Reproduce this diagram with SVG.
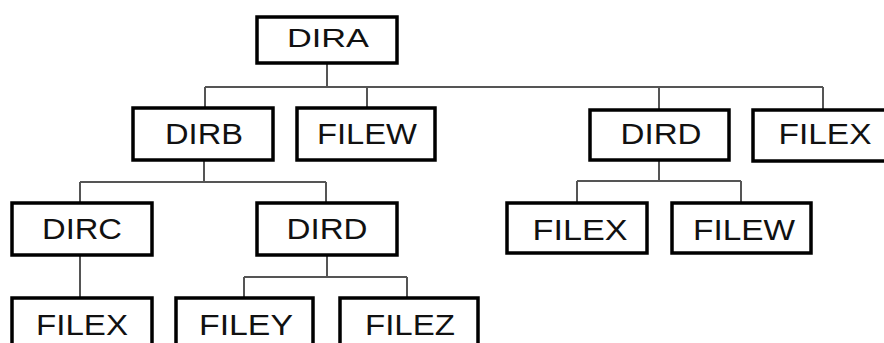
<svg xmlns="http://www.w3.org/2000/svg" width="884" height="343" viewBox="0 0 884 343">
<style>
.box{fill:#fff;stroke:#000;stroke-width:3.5}
.lbl{font-family:"Liberation Sans",Arial,Helvetica,sans-serif;font-size:30px;fill:#111;text-anchor:middle}
.big{font-size:26px}
.con{fill:none;stroke:#555;stroke-width:2}
</style>
<rect width="884" height="343" fill="#fff"/>
<g id="connectors">
<path class="con" d="M327 63V87M205 87H823M205 87V108M367 87V108M659 87V110M823 87V110"/>
<path class="con" d="M204 160V182M80 182H326M80 182V203M326 182V203"/>
<path class="con" d="M80 255V298"/>
<path class="con" d="M327 255V277M244 277H407M244 277V298M407 277V298"/>
<path class="con" d="M659 160V181M577 181H741M577 181V203M741 181V203"/>
</g>
<g id="dira"><rect class="box" x="257" y="17" width="140" height="46"/><text class="lbl big" x="328" y="47" textLength="82" lengthAdjust="spacingAndGlyphs">DIRA</text></g>
<g id="dirb"><rect class="box" x="133" y="108" width="140" height="52"/><text class="lbl" x="204" y="144" textLength="78" lengthAdjust="spacingAndGlyphs">DIRB</text></g>
<g id="filew1"><rect class="box" x="297" y="108" width="138" height="52"/><text class="lbl" x="367" y="144" textLength="100" lengthAdjust="spacingAndGlyphs">FILEW</text></g>
<g id="dird1"><rect class="box" x="590" y="110" width="139" height="50"/><text class="lbl" x="661" y="144" textLength="81" lengthAdjust="spacingAndGlyphs">DIRD</text></g>
<g id="filex1"><rect class="box" x="753" y="110" width="140" height="51"/><text class="lbl" x="825" y="144" textLength="93" lengthAdjust="spacingAndGlyphs">FILEX</text></g>
<g id="dirc"><rect class="box" x="12" y="203" width="140" height="52"/><text class="lbl" x="82" y="239" textLength="80" lengthAdjust="spacingAndGlyphs">DIRC</text></g>
<g id="dird2"><rect class="box" x="257" y="203" width="140" height="52"/><text class="lbl" x="327" y="239" textLength="81" lengthAdjust="spacingAndGlyphs">DIRD</text></g>
<g id="filex2"><rect class="box" x="507" y="203" width="140" height="50"/><text class="lbl" x="580" y="240" textLength="95" lengthAdjust="spacingAndGlyphs">FILEX</text></g>
<g id="filew2"><rect class="box" x="672" y="203" width="139" height="50"/><text class="lbl" x="744" y="240" textLength="102" lengthAdjust="spacingAndGlyphs">FILEW</text></g>
<g id="filex3"><rect class="box" x="12" y="298" width="140" height="60"/><text class="lbl" x="82" y="335" textLength="92" lengthAdjust="spacingAndGlyphs">FILEX</text></g>
<g id="filey"><rect class="box" x="176" y="298" width="137" height="60"/><text class="lbl" x="246" y="335" textLength="94" lengthAdjust="spacingAndGlyphs">FILEY</text></g>
<g id="filez"><rect class="box" x="340" y="298" width="138" height="60"/><text class="lbl" x="410" y="335" textLength="90" lengthAdjust="spacingAndGlyphs">FILEZ</text></g>
</svg>
